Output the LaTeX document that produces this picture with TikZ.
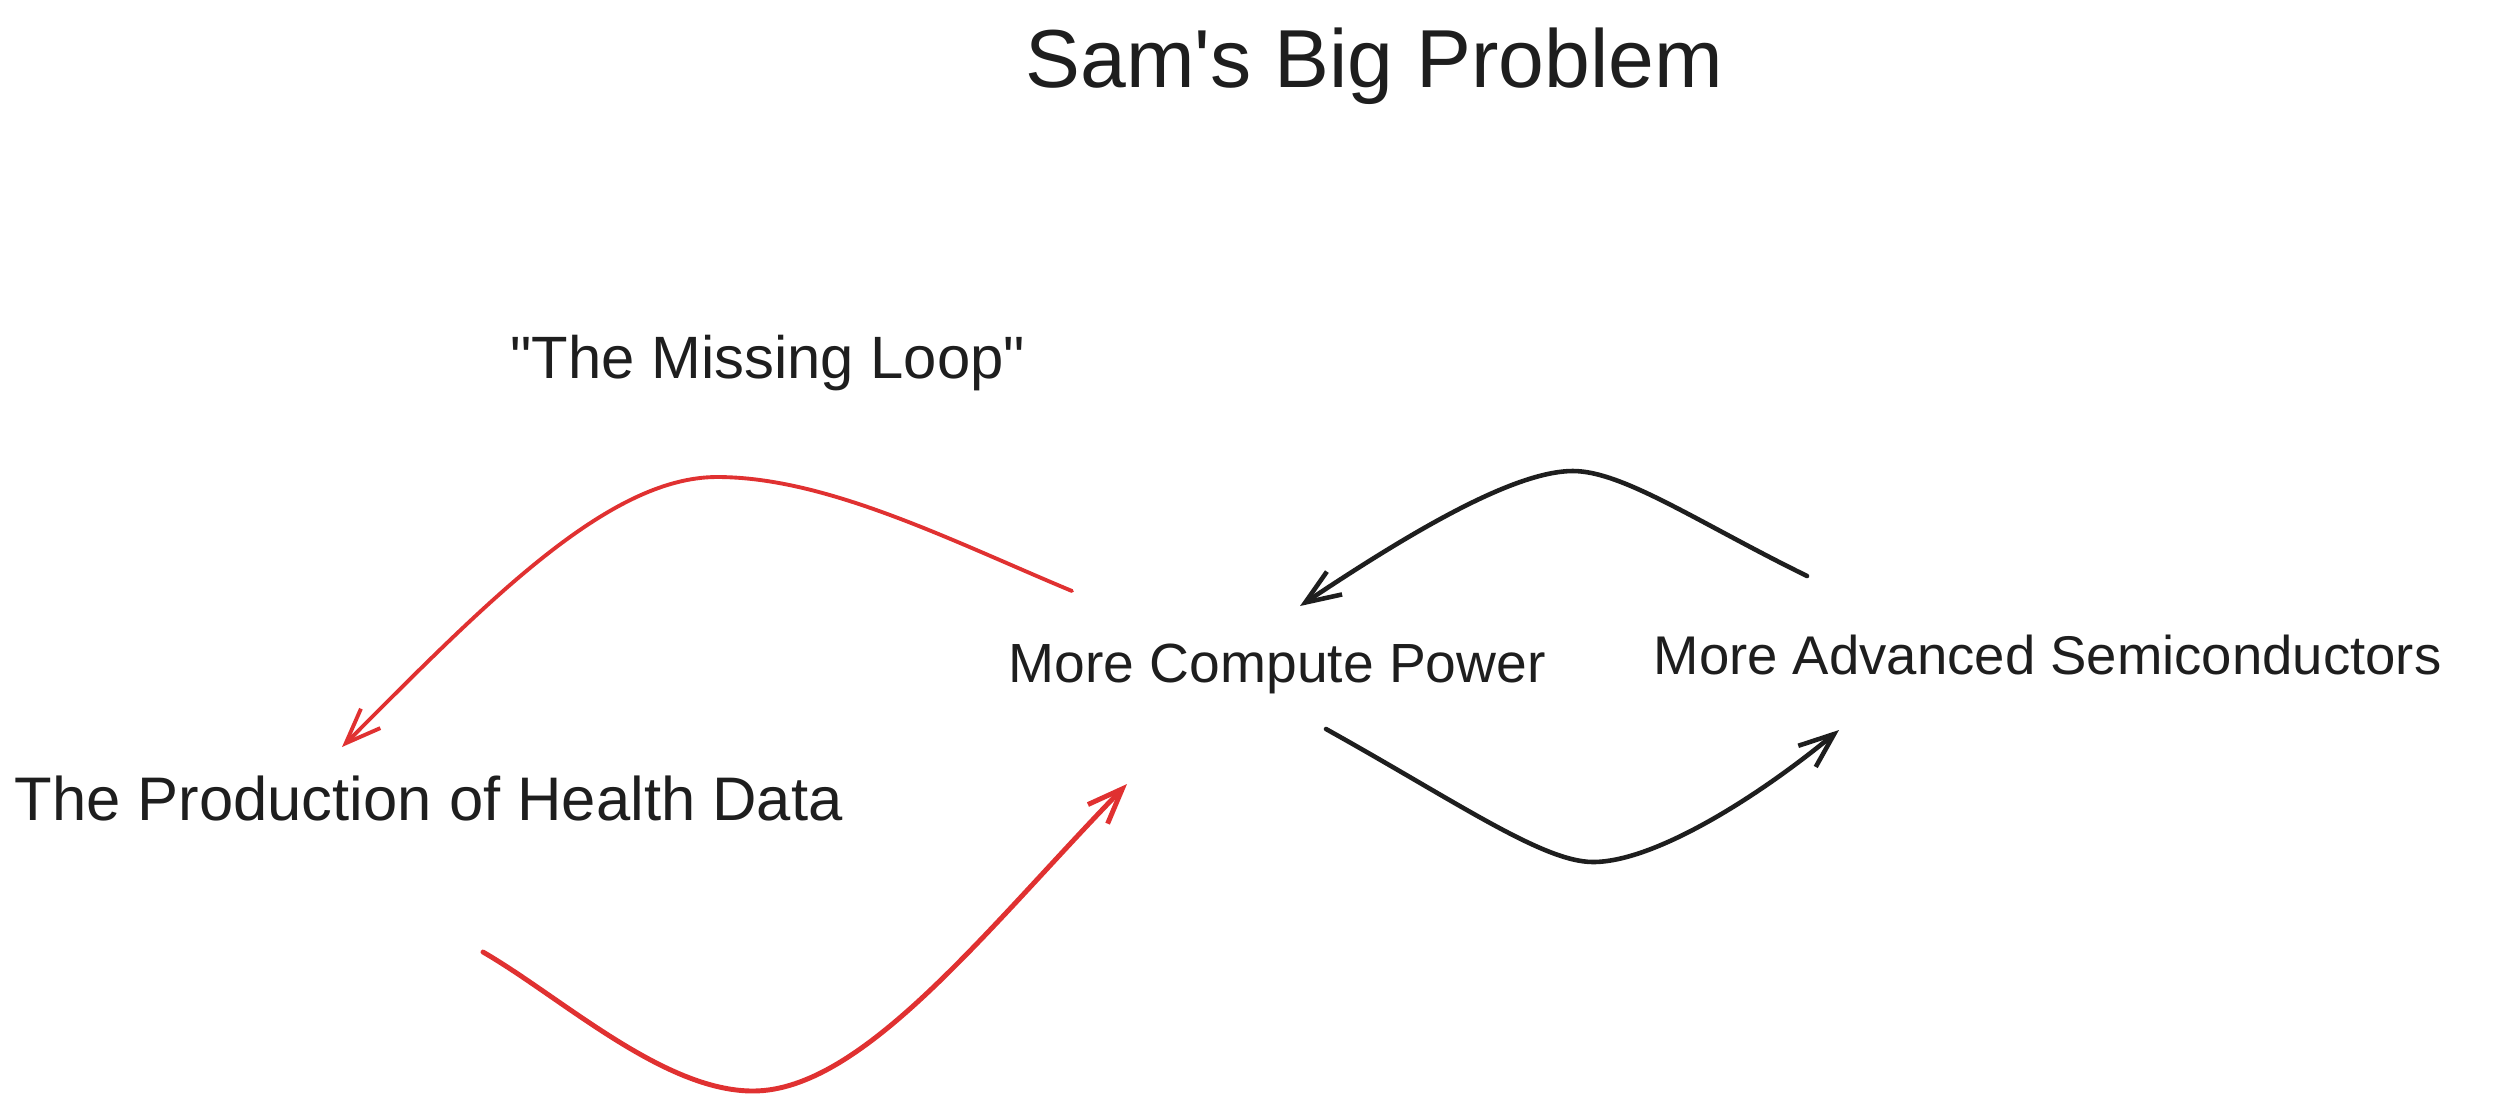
\documentclass[tikz,border=0pt]{standalone}
\usepackage{fontspec}
\setmainfont{Liberation Sans}[Ligatures=TeXOff]
\usetikzlibrary{arrows.meta}
\definecolor{ink}{HTML}{1E1E1E}
\definecolor{exred}{HTML}{E03131}
\tikzset{
  lbl/.style={anchor=base west, inner sep=0pt, text=ink},
  barbtip/.style={-{Straight Barb[length=10pt,width=7.8pt]}},
  blackarc/.style={draw=ink, line width=1.3pt, line cap=round, line join=round, barbtip},
  redarc/.style={draw=exred, line width=1.2pt, line cap=round, line join=round, barbtip}
}
\begin{document}
\begin{tikzpicture}[x=0.01cm,y=-0.01cm]
\useasboundingbox (0,0) rectangle (2500,1108);
% labels
\node[lbl, font=\fontsize{23.4}{28}\selectfont] (title) at (1025,87) {Sam's Big Problem};
\node[lbl, font=\fontsize{17}{20}\selectfont] (loop) at (510,378) {"The Missing Loop"};
\node[lbl, font=\fontsize{15.7}{19}\selectfont] (compute) at (1008,682) {More Compute Power};
\node[lbl, font=\fontsize{15.5}{19}\selectfont] (semis) at (1653,674) {More Advanced Semiconductors};
\node[lbl, font=\fontsize{17.5}{21}\selectfont] (health) at (14,820) {The Production of Health Data};
% connector end points
\coordinate (r1s) at (1072,591);
\coordinate (r1p) at (717,477);
\coordinate (r1e) at (342,747);
\coordinate (r2s) at (483,952);
\coordinate (r2p) at (753,1091);
\coordinate (r2e) at (1127,784);
\coordinate (b1s) at (1807,576);
\coordinate (b1p) at (1573,471);
\coordinate (b1e) at (1300,606);
\coordinate (b2s) at (1326,729);
\coordinate (b2p) at (1593,862);
\coordinate (b2e) at (1839,730);
% red: the missing loop (compute -> health)
\draw[redarc, line width=1.1pt] (r1s) .. controls (952,541) and (827,477) .. (r1p)
   .. controls (607,477) and (484,605) .. (r1e);
% red: health -> compute
\draw[redarc, line width=1.4pt] (r2s) .. controls (561,997) and (663,1091) .. (r2p)
   .. controls (863,1091) and (988,927) .. (r2e);
% black: semis -> compute
\draw[blackarc] (b1s) .. controls (1699,523) and (1623,471) .. (b1p)
   .. controls (1513,471) and (1408,534) .. (b1e);
% black: compute -> semis
\draw[blackarc] (b2s) .. controls (1457,802) and (1543,862) .. (b2p)
   .. controls (1653,862) and (1754,800) .. (b2e);
\end{tikzpicture}
\end{document}
